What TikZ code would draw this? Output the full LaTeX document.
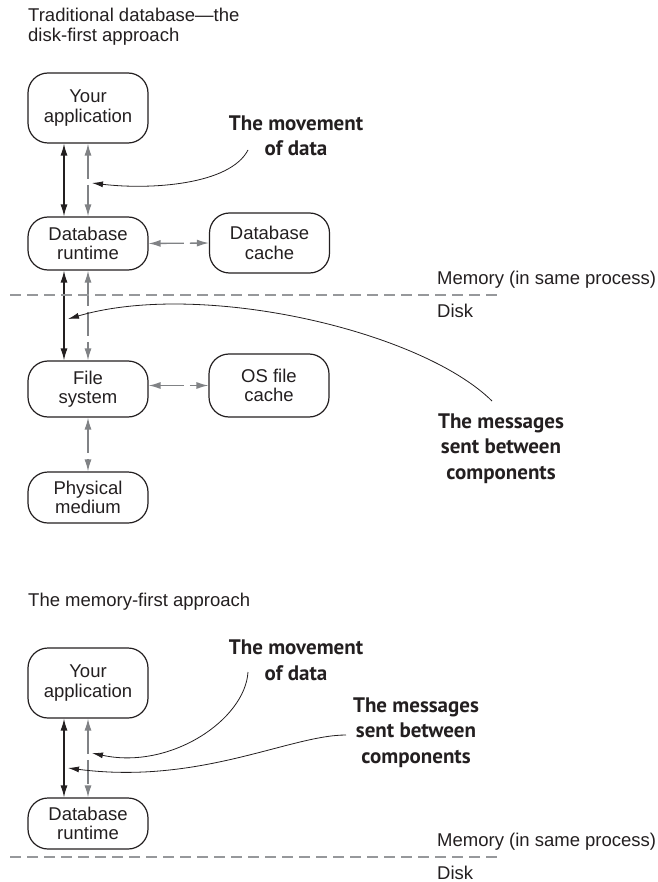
\documentclass[tikz,border=0pt]{standalone}
\usepackage{fontspec}
\setmainfont{Liberation Sans}
\newfontfamily\calloutfont{PT Sans}
\usetikzlibrary{arrows.meta, positioning}
\definecolor{ink}{RGB}{35,31,32}
\definecolor{flow}{RGB}{128,130,133}
\definecolor{rulegray}{RGB}{150,152,155}

\tikzset{
  comp/.style={draw=ink, line width=1.2pt, rounded corners=20pt, minimum width=120pt,
    inner sep=0pt, align=center, text=ink, font=\fontsize{18.5}{19.5}\selectfont},
  msgline/.style={ink, line width=1.3pt, {Latex[length=12pt,width=7pt]}-{Latex[length=12pt,width=7pt]}},
  dataline/.style={flow, line width=1.3pt, dash pattern=on 24pt off 6pt,
    {Latex[length=12pt,width=7pt]}-{Latex[length=12pt,width=7pt]}},
  callout/.style={ink, line width=0.8pt, -{Latex[length=11pt,width=6pt]}},
  calltext/.style={text=ink, align=center, inner sep=0pt,
    font=\calloutfont\bfseries\fontsize{21}{25.5}\selectfont},
  plaintext/.style={text=ink, inner sep=0pt, align=left, font=\fontsize{18.5}{19.5}\selectfont},
  divider/.style={rulegray, line width=1.2pt, dash pattern=on 11pt off 6pt},
}

\begin{document}
\begin{tikzpicture}[x=1pt, y=-1pt]
    \useasboundingbox (0,0) rectangle (657,882);

    % disk-first (base of a multi-line node = its last line)
    \node[plaintext, anchor=base west] (title1) at (28,41.5) {Traditional database—the\\disk-first approach};
    \node[comp, minimum height=70pt] (app1) at (88,108) {Your\\application};
    \node[comp, minimum height=53pt] (rt1) at (88,243.5) {Database\\runtime};
    \node[comp, minimum height=60pt] (dbcache) at (269.5,243) {Database\\cache};
    \node[comp, minimum height=56pt] (fs) at (88,389) {File\\system};
    \node[comp, minimum height=63pt] (oscache) at (269,385.5) {OS file\\cache};
    \node[comp, minimum height=51pt] (phys) at (88,497.5) {Physical\\medium};

    \foreach \a/\b in {app1/rt1, rt1/fs} {
        \draw[msgline] ([xshift=-24pt]\a.south) -- ([xshift=-24pt]\b.north);
        \draw[dataline] (\a.south) -- (\b.north);
    }
    \draw[dataline] (fs.south) -- (phys.north);
    \draw[dataline] (rt1.east) -- (dbcache.west);
    \draw[dataline] (fs.east |- oscache.west) -- (oscache.west);

    \node[calltext, anchor=base] (mov1) at (296,156) {The movement\\of data};
    \node[calltext, anchor=base] (msg1) at (501,479) {The messages\\sent between\\components};
    \coordinate (mov1from) at (248,150);
    \coordinate (mov1to) at (92,183);
    \coordinate (msg1from) at (492,401);
    \coordinate (msg1to) at (68,319);
    \draw[callout] (mov1from) .. controls (230,185) and (150,190) .. (mov1to);
    \draw[callout] (msg1from) .. controls (420,330) and (200,280) .. (msg1to);

    % memory-first
    \node[plaintext, anchor=base west] (title2) at (28,606.5) {The memory-first approach};
    \node[comp, minimum height=70pt] (app2) at (88,683) {Your\\application};
    \node[comp, minimum height=51pt] (rt2) at (88,823.5) {Database\\runtime};
    \draw[msgline] ([xshift=-24pt]app2.south) -- ([xshift=-24pt]rt2.north);
    \draw[dataline] (app2.south) -- (rt2.north);

    \node[calltext, anchor=base] (mov2) at (296,680) {The movement\\of data};
    \node[calltext, anchor=base] (msg2) at (416,763) {The messages\\sent between\\components};
    \coordinate (mov2from) at (248,672);
    \coordinate (mov2to) at (92,753);
    \coordinate (msg2from) at (346,735);
    \coordinate (msg2to) at (68,768);
    \draw[callout] (mov2from) .. controls (245,720) and (170,770) .. (mov2to);
    \draw[callout] (msg2from) .. controls (290,735) and (200,785) .. (msg2to);

    % memory / disk boundary
    \foreach \yy/\i in {295/1, 857/2} {
        \coordinate (cut\i L) at (10,\yy);
        \coordinate (cut\i R) at (502,\yy);
        \draw[divider] (cut\i L) -- (cut\i R);
        \node[plaintext, anchor=base west] (mem\i) at (437,\yy-11) {Memory (in same process)};
        \node[plaintext, anchor=base west] (disk\i) at (437,\yy+22) {Disk};
    }
\end{tikzpicture}
\end{document}
